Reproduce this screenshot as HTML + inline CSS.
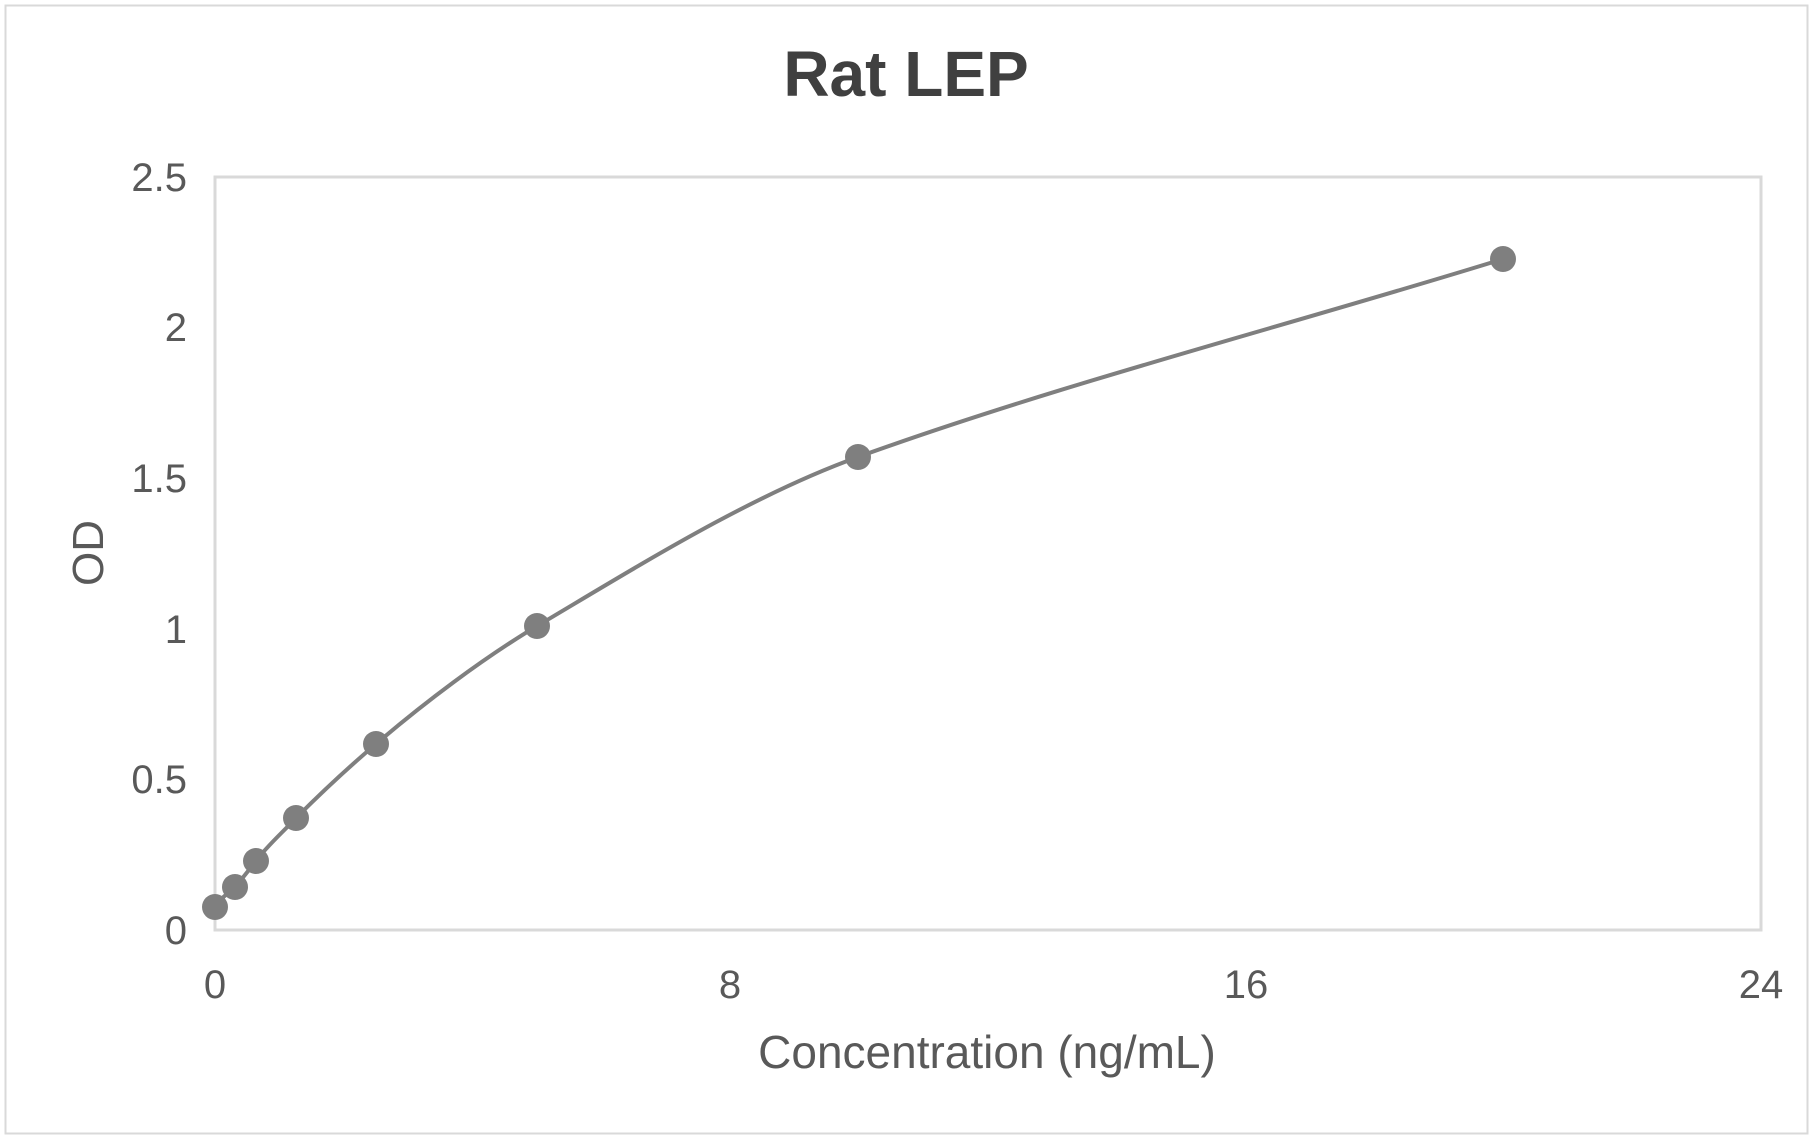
<!DOCTYPE html>
<html><head><meta charset="utf-8"><style>body{margin:0;background:#fff}svg{display:block}</style></head>
<body>
<svg width="1813" height="1139" xmlns="http://www.w3.org/2000/svg" font-family="Liberation Sans, sans-serif">
<rect x="0" y="0" width="1813" height="1139" fill="#fff"/>
<rect x="5.5" y="5.5" width="1802" height="1128" fill="none" stroke="#d9d9d9" stroke-width="2"/>
<text x="906" y="96" text-anchor="middle" font-size="64" font-weight="bold" fill="#404040">Rat LEP</text>
<rect x="215" y="177" width="1546" height="753" fill="none" stroke="#d9d9d9" stroke-width="3"/>
<g font-size="40" fill="#595959" text-anchor="end">
<text x="187" y="944">0</text>
<text x="187" y="793">0.5</text>
<text x="187" y="643">1</text>
<text x="187" y="492">1.5</text>
<text x="187" y="341">2</text>
<text x="187" y="191">2.5</text>
</g>
<g font-size="40" fill="#595959" text-anchor="middle">
<text x="215" y="998">0</text>
<text x="730" y="998">8</text>
<text x="1246" y="998">16</text>
<text x="1761" y="998">24</text>
</g>
<text x="987" y="1068" text-anchor="middle" font-size="46" fill="#595959">Concentration (ng/mL)</text>
<text transform="translate(103,553) rotate(-90)" text-anchor="middle" font-size="44" fill="#595959">OD</text>
<path d="M215,907 C218,900 229,893 235,887 C242,879 249,870 256,861 C266,847 283,832 296,818 C320,794 350,766 376,744 C424,703 482,659 537,626 C640,565 750,496 858,457 C1060,384 1290,325 1503,259" fill="none" stroke="#7f7f7f" stroke-width="4"/>
<g fill="#7f7f7f">
<circle cx="215" cy="907" r="13"/>
<circle cx="235" cy="887" r="13"/>
<circle cx="256" cy="861" r="13"/>
<circle cx="296" cy="818" r="13"/>
<circle cx="376" cy="744" r="13"/>
<circle cx="537" cy="626" r="13"/>
<circle cx="858" cy="457" r="13"/>
<circle cx="1503" cy="259" r="13"/>
</g>
</svg>
</body></html>
